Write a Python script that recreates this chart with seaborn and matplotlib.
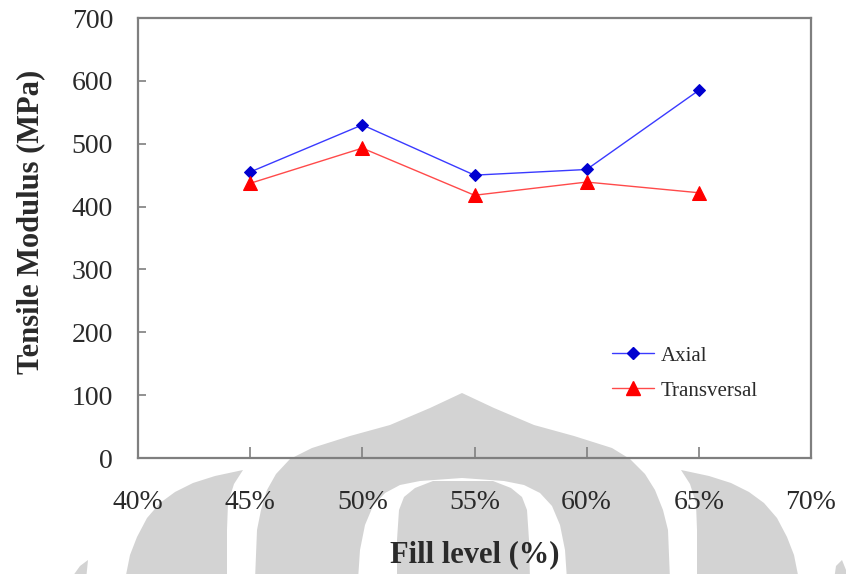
import matplotlib
matplotlib.use("Agg")
import matplotlib.pyplot as plt
from matplotlib.patches import Polygon
from matplotlib.lines import Line2D
import seaborn as sns
import pandas as pd

# Tensile modulus versus fill level
fill_levels = [45, 50, 55, 60, 65]
axial = [455, 530, 450, 459, 585]
transversal = [437, 493, 418, 439, 422]
x_ticks = [40, 45, 50, 55, 60, 65, 70]
y_ticks = [0, 100, 200, 300, 400, 500, 600, 700]

df = pd.DataFrame({
    "fill": fill_levels * 2,
    "modulus": axial + transversal,
    "direction": ["Axial"] * len(axial) + ["Transversal"] * len(transversal),
})

sns.set_theme(style="white")
plt.rcParams["font.family"] = ["Liberation Serif", "DejaVu Serif"]

W, H = 846, 574
fig = plt.figure(figsize=(W / 100, H / 100), dpi=100)
fig.patch.set_facecolor("white")


# Light grey emblem in the background, laid out in pixel units
def px(points):
    return [(x / W, 1 - y / H) for x, y in points]


def add_shape(points, color, z):
    fig.patches.append(Polygon(px(points), closed=True, transform=fig.transFigure,
                               facecolor=color, edgecolor="none", zorder=z))


grey = "#d3d3d3"
dome = [(462, 393), (430, 408), (390, 425), (350, 436), (312, 448), (290, 459),
        (276, 474), (267, 490), (261, 510), (257, 530), (255, 580),
        (670, 580), (668, 530), (663, 510), (655, 490), (645, 474), (630, 459),
        (612, 448), (574, 436), (534, 425), (494, 408)]
left_wing = [(243, 470), (215, 476), (193, 483), (175, 492), (160, 503),
             (147, 518), (137, 537), (130, 555), (125, 580), (227, 580),
             (227, 530), (228, 503), (234, 484)]
right_wing = [(681, 470), (709, 476), (731, 483), (749, 492), (764, 503),
              (777, 518), (787, 537), (794, 555), (799, 580), (697, 580),
              (697, 530), (696, 503), (690, 484)]
left_tip = [(70, 580), (80, 566), (88, 560), (86, 580)]
right_tip = [(850, 580), (842, 560), (836, 566), (834, 580)]
white_ring = [(358, 580), (360, 550), (365, 525), (373, 506), (385, 493),
              (400, 485), (420, 481), (462, 478), (504, 481), (524, 485),
              (540, 493), (552, 506), (560, 525), (565, 550), (567, 580)]
inner_core = [(397, 580), (397, 540), (399, 510), (404, 497), (415, 488),
              (433, 481), (493, 481), (511, 488), (522, 497), (527, 510),
              (529, 540), (530, 580)]

for shape in (dome, left_wing, right_wing, left_tip, right_tip):
    add_shape(shape, grey, -3)
add_shape(white_ring, "white", -2)
add_shape(inner_core, grey, -1)

ax = fig.add_axes([138 / W, 1 - 458 / H, (811 - 138) / W, (458 - 18) / H])
ax.set_facecolor("none")

sns.lineplot(data=df[df.direction == "Axial"], x="fill", y="modulus", ax=ax,
             color="#3a3aff", lw=1.0, marker="D", markersize=6.5,
             markerfacecolor="#0000d0", markeredgecolor="#0000d0", legend=False)
sns.lineplot(data=df[df.direction == "Transversal"], x="fill", y="modulus", ax=ax,
             color="#ff4a4a", lw=1.0, marker="^", markersize=10,
             markerfacecolor="#ff0000", markeredgecolor="#ff0000", legend=False)

ax.set_xlim(40, 70)
ax.set_ylim(0, 700)
ax.set_xticks(x_ticks)
ax.set_xticklabels([f"{v}%" for v in x_ticks])
ax.set_yticks(y_ticks)
ax.set_yticklabels([str(v) for v in y_ticks])

for s in ax.spines.values():
    s.set_color("#7f7f7f")
    s.set_linewidth(1.6)

ax.tick_params(axis="y", direction="in", length=6, width=1.2, color="#7f7f7f",
               labelsize=20, labelcolor="#2a2a2a", pad=18, left=True)
ax.tick_params(axis="x", direction="in", length=8, width=1.2, color="#7f7f7f",
               labelsize=20, labelcolor="#2a2a2a", pad=23, bottom=True)

ax.set_xlabel("Fill level (%)", fontsize=22, fontweight="bold", color="#2a2a2a")
ax.set_ylabel("Tensile Modulus (MPa)", fontsize=22, fontweight="bold", color="#2a2a2a")
ax.xaxis.set_label_coords(0.5, -0.186)
ax.yaxis.set_label_coords(-0.138, 0.536)

handles = [
    Line2D([], [], color="#3a3aff", lw=1.0, marker="D", markersize=6,
           markerfacecolor="#0000d0", markeredgecolor="#0000d0"),
    Line2D([], [], color="#ff4a4a", lw=1.0, marker="^", markersize=10,
           markerfacecolor="#ff0000", markeredgecolor="#ff0000"),
]
ax.legend(handles, ["Axial", "Transversal"], loc="upper left",
          bbox_to_anchor=((612 - 138) / 673, (458 - 346) / 440),
          frameon=False, fontsize=15, handlelength=2.0, handletextpad=0.33,
          labelspacing=0.75, borderpad=0, borderaxespad=0, labelcolor="#2a2a2a")

fig.savefig("out.png", dpi=100)
